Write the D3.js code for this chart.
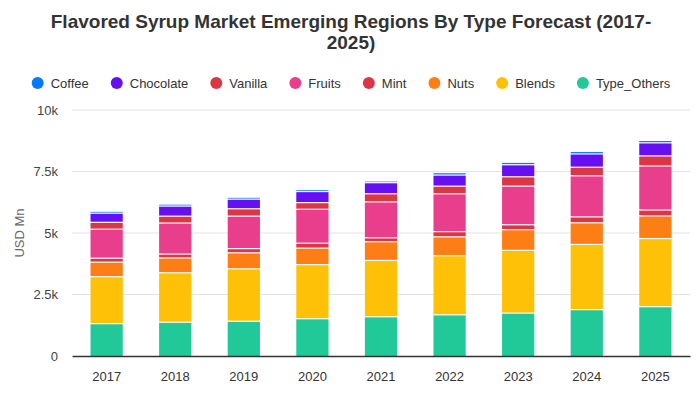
<!DOCTYPE html>
<html><head><meta charset="utf-8">
<script src="https://cdn.jsdelivr.net/npm/d3@7"></script>
<style>body{margin:0;background:#fff;} svg{display:block;font-family:"Liberation Sans",Arial,sans-serif;}</style>
</head><body><svg id="c" width="700" height="400"></svg>
<script>
const years = ["2017","2018","2019","2020","2021","2022","2023","2024","2025"];
const seriesNames = ["Coffee","Chocolate","Vanilla","Fruits","Mint","Nuts","Blends","Type_Others"];
const coffee     = [0.08,0.08,0.08,0.08,0.07,0.10,0.10,0.10,0.10];
const chocolate  = [0.37,0.41,0.39,0.45,0.45,0.45,0.49,0.54,0.53];
const vanilla    = [0.28,0.28,0.30,0.27,0.33,0.31,0.38,0.35,0.41];
const fruits     = [1.18,1.26,1.32,1.38,1.46,1.54,1.57,1.67,1.79];
const mint       = [0.16,0.16,0.17,0.20,0.16,0.21,0.20,0.24,0.24];
const nuts       = [0.59,0.60,0.65,0.67,0.76,0.77,0.84,0.88,0.92];
const blends     = [1.91,2.01,2.13,2.20,2.29,2.40,2.55,2.65,2.77];
const typeOthers = [1.29,1.35,1.39,1.49,1.57,1.65,1.72,1.86,1.98];
const yTicks = [0,2500,5000,7500,10000];
const yTickLabels = ["0","2.5k","5k","7.5k","10k"];
const colors = ["#007bff","#6610f2","#dc3545","#e83e8c","#dc3545","#fd7e14","#ffc107","#20c997"];

const valuesBySeries = {Coffee:coffee,Chocolate:chocolate,Vanilla:vanilla,Fruits:fruits,Mint:mint,Nuts:nuts,Blends:blends,Type_Others:typeOthers};
const rows = years.map((yr,i)=>{const r={year:yr}; seriesNames.forEach(s=>r[s]=valuesBySeries[s][i]*1000); return r;});
const stackOrder = seriesNames.slice().reverse();
const stacked = d3.stack().keys(stackOrder)(rows);
const color = d3.scaleOrdinal().domain(seriesNames).range(colors);

const svg = d3.select("#c");
const mLeft=72, mRight=690, mTop=110, mBottom=356;
const x = d3.scaleBand().domain(years).range([mLeft,mRight]).paddingInner(0.53).paddingOuter(0.27);
const y = d3.scaleLinear().domain([0,10000]).range([mBottom,mTop]);

// title
const title = svg.append("text").attr("text-anchor","middle").attr("fill","#333")
  .attr("font-size",19).attr("font-weight","bold");
title.append("tspan").attr("x",351).attr("y",28).text("Flavored Syrup Market Emerging Regions By Type Forecast (2017-");
title.append("tspan").attr("x",351).attr("y",49).text("2025)");

// legend
const lg = svg.append("g");
let cx = 0;
seriesNames.forEach(s=>{
  const g = lg.append("g").attr("transform",`translate(${cx},0)`);
  g.append("circle").attr("cx",0).attr("cy",0).attr("r",6).attr("fill",color(s));
  const t = g.append("text").attr("x",13).attr("y",4.5).attr("font-size",13).attr("fill","#333").text(s);
  cx += 13 + t.node().getComputedTextLength() + 28;
});
const lgW = cx - 28 + 6;
lg.attr("transform",`translate(${351 - lgW/2 + 6},83)`);

// grid
svg.append("g").selectAll("line").data(yTicks.slice(1)).join("line")
  .attr("x1",mLeft).attr("x2",mRight).attr("y1",d=>y(d)).attr("y2",d=>y(d))
  .attr("stroke","#e3e3e3").attr("stroke-width",1);

// y axis
const yAxis = d3.axisLeft(y).tickValues(yTicks).tickFormat((d,i)=>yTickLabels[i]).tickSize(0).tickPadding(14);
const ya = svg.append("g").attr("transform",`translate(${mLeft},0)`).call(yAxis);
ya.select(".domain").remove();
ya.selectAll("text").attr("font-size",13).attr("fill","#444").attr("font-family","Liberation Sans, Arial, sans-serif");

svg.append("text").attr("transform","translate(24,233) rotate(-90)").attr("text-anchor","middle")
  .attr("font-size",13).attr("fill","#666").text("USD Mn");

// bars (white 1px gap below each upper segment)
svg.append("g").selectAll("g").data(stacked).join("g").attr("fill",d=>color(d.key))
  .selectAll("rect").data(d=>d).join("rect")
  .attr("x",d=>x(d.data.year)).attr("width",x.bandwidth())
  .attr("y",d=>y(d[1]))
  .attr("height",d=>Math.max(0,y(d[0])-y(d[1]) - (d[0]>0 ? 1.2 : 0)));

// x axis
const xAxis = d3.axisBottom(x).tickSize(0).tickPadding(16);
const xa = svg.append("g").attr("transform",`translate(0,${mBottom})`).call(xAxis);
xa.select(".domain").attr("stroke","#333").attr("stroke-width",1.5);
xa.selectAll("text").attr("font-size",13).attr("fill","#333").attr("font-family","Liberation Sans, Arial, sans-serif");
</script></body></html>
